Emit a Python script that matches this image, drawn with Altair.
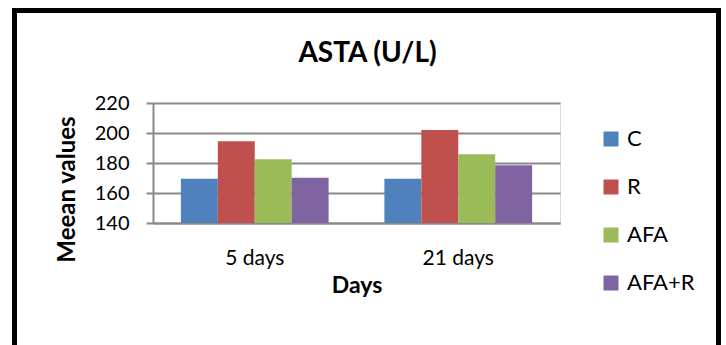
import altair as alt
import pandas as pd

# ASTA (U/L) mean values by day and treatment group
days = ["5 days", "21 days"]
groups = ["C", "R", "AFA", "AFA+R"]
values_5_days = [169.5, 194.5, 182.5, 170.2]
values_21_days = [169.5, 202.0, 185.8, 178.5]
y_ticks = [140, 160, 180, 200, 220]
y_base = 140
colors = ["#4F81BD", "#C0504D", "#9BBB59", "#8064A2"]

rows = []
for day, vals in zip(days, [values_5_days, values_21_days]):
    for g, v in zip(groups, vals):
        rows.append({"day": day, "group": g, "value": v})
df = pd.DataFrame(rows)

FONT = "Lato"
GRID = "#898989"

bars = alt.Chart(df).mark_bar().encode(
    x=alt.X(
        "day:N",
        sort=days,
        title="Days",
        scale=alt.Scale(paddingInner=0.274, paddingOuter=0.137),
        axis=alt.Axis(
            labelAngle=0,
            labelFontSize=21,
            labelFont=FONT,
            labelColor="#000000",
            labelPadding=24,
            ticks=False,
            domainColor=GRID,
            domainWidth=2,
            titleFont=FONT,
            titleFontSize=23,
            titleFontWeight="bold",
            titleColor="#000000",
            titlePadding=6,
        ),
    ),
    xOffset=alt.XOffset("group:N", sort=groups, scale=alt.Scale(paddingInner=0, paddingOuter=0)),
    y=alt.Y(
        "value:Q",
        title="Meean values",
        scale=alt.Scale(domain=[140, 220], nice=False, zero=False),
        axis=alt.Axis(
            values=y_ticks,
            labelFontSize=20,
            labelFont=FONT,
            labelColor="#000000",
            labelPadding=17,
            tickColor=GRID,
            tickWidth=2,
            tickSize=7,
            domainColor=GRID,
            domainWidth=2,
            gridColor=GRID,
            gridWidth=2,
            titleFont=FONT,
            titleFontSize=24,
            titleFontWeight="bold",
            titleColor="#000000",
            titlePadding=15,
            titleY=86,
        ),
    ),
    y2=alt.datum(y_base),
    color=alt.Color(
        "group:N",
        sort=groups,
        scale=alt.Scale(domain=groups, range=colors),
        legend=alt.Legend(
            title=None,
            orient="none",
            legendX=447,
            legendY=25,
            symbolType="square",
            symbolSize=225,
            symbolStrokeWidth=0,
            labelFont=FONT,
            labelFontSize=22,
            labelColor="#000000",
            labelOffset=5,
            rowPadding=26,
        ),
    ),
)

# outer chart frame
frame = alt.Chart(pd.DataFrame({"k": [0]})).mark_rect(
    fill=None, stroke="#000000", strokeWidth=5
).encode(
    x=alt.value(-138.5),
    x2=alt.value(565.5),
    y=alt.value(-92.5),
    y2=alt.value(260),
)

chart = (
    alt.layer(frame, bars)
    .properties(
        width=407,
        height=120,
        autosize=alt.AutoSizeParams(type="none"),
        padding={"left": 153, "top": 103, "right": 166, "bottom": 122},
        title=alt.TitleParams(
            "ASTA (U/L)",
            font=FONT,
            fontSize=28,
            fontWeight="bold",
            color="#000000",
            anchor="middle",
            dx=11,
            offset=-60,
        ),
    )
    .configure_view(stroke=None)
    .configure(background="#FFFFFF")
)

chart.save("out.html", embed_options={"renderer": "svg", "actions": False})
